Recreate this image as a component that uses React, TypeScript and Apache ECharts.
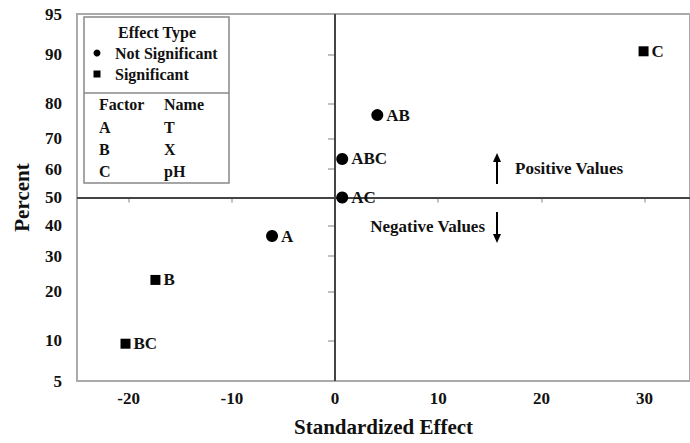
import React, { useEffect, useRef } from "react";
import * as echarts from "echarts";

// ---- data ----
const effectNames = ["C", "AB", "ABC", "AC", "A", "B", "BC"];
const effectValues = [29.9, 4.1, 0.7, 0.7, -6.1, -17.4, -20.3];
const effectPercents = [90.5, 77.0, 63.5, 50.0, 36.5, 23.0, 9.5];
const effectSignificant = [true, false, false, false, false, true, true];
const yTickPercents = [5, 10, 20, 30, 40, 50, 60, 70, 80, 90, 95];
const xTickValues = [-20, -10, 0, 10, 20, 30];
const factorLetters = ["A", "B", "C"];
const factorNames = ["T", "X", "pH"];

// inverse standard normal CDF (Acklam) - probability axis transform
function probit(p: number): number {
  const a = [-3.969683028665376e1, 2.209460984245205e2, -2.759285104469687e2, 1.38357751867269e2, -3.066479806614716e1, 2.506628277459239];
  const b = [-5.447609879822406e1, 1.615858368580409e2, -1.556989798598866e2, 6.680131188771972e1, -1.328068155288572e1];
  const c = [-7.784894002430293e-3, -3.223964580411365e-1, -2.400758277161838, -2.549732539343734, 4.374664141464968, 2.938163982698783];
  const d = [7.784695709041462e-3, 3.224671290700398e-1, 2.445134137142996, 3.754408661907416];
  const pl = 0.02425;
  if (p < pl) {
    const q = Math.sqrt(-2 * Math.log(p));
    return (((((c[0] * q + c[1]) * q + c[2]) * q + c[3]) * q + c[4]) * q + c[5]) / ((((d[0] * q + d[1]) * q + d[2]) * q + d[3]) * q + 1);
  }
  if (p > 1 - pl) {
    const q = Math.sqrt(-2 * Math.log(1 - p));
    return -(((((c[0] * q + c[1]) * q + c[2]) * q + c[3]) * q + c[4]) * q + c[5]) / ((((d[0] * q + d[1]) * q + d[2]) * q + d[3]) * q + 1);
  }
  const q = p - 0.5;
  const r = q * q;
  return ((((((a[0] * r + a[1]) * r + a[2]) * r + a[3]) * r + a[4]) * r + a[5]) * q) / (((((b[0] * r + b[1]) * r + b[2]) * r + b[3]) * r + b[4]) * r + 1);
}

const FONT = "'Liberation Serif', 'DejaVu Serif', serif";
const TXT = "#111";

export default function App() {
  const ref = useRef<HTMLDivElement>(null);
  useEffect(() => {
    if (!ref.current) return;
    const chart = echarts.init(ref.current, null, { renderer: "svg" });

    const yTicks = yTickPercents.map((p) => probit(p / 100));
    const mkData = (sig: boolean) =>
      effectNames
        .map((n, i) => ({ n, i }))
        .filter(({ i }) => effectSignificant[i] === sig)
        .map(({ n, i }) => ({ name: n, value: [effectValues[i], probit(effectPercents[i] / 100)] }));

    const pointLabel = {
      show: true,
      position: "right" as const,
      distance: 3,
      formatter: (p: any) => p.name,
      fontFamily: FONT,
      fontWeight: "bold" as const,
      fontSize: 17,
      color: TXT,
      opacity: 1,
    };

    const legendX = 84;
    const legendY = 17;
    const legendW = 145;
    const legendH = 166;
    const legendText = (text: string, x: number, y: number, align = "left") => ({
      type: "text",
      x,
      y,
      style: { text, fontFamily: FONT, fontWeight: "bold", fontSize: 16, fill: TXT, align, verticalAlign: "middle" },
    });

    const graphics: any[] = [
      {
        type: "rect",
        shape: { x: legendX, y: legendY, width: legendW, height: legendH },
        style: { fill: "#fff", stroke: "#888", lineWidth: 1.5 },
      },
      {
        type: "line",
        shape: { x1: legendX, y1: 93, x2: legendX + legendW, y2: 93 },
        style: { stroke: "#888", lineWidth: 1.5 },
      },
      legendText("Effect Type", 157, 32, "center"),
      { type: "circle", shape: { cx: 97, cy: 53, r: 3.5 }, style: { fill: "#000" } },
      legendText("Not Significant", 115, 53),
      { type: "rect", shape: { x: 93.5, y: 70.5, width: 7, height: 7 }, style: { fill: "#000" } },
      legendText("Significant", 115, 74),
      legendText("Factor", 99, 104),
      legendText("Name", 164, 104),
      ...factorLetters.map((f, i) => legendText(f, 99, 127 + i * 22)),
      ...factorNames.map((f, i) => legendText(f, 164, 127 + i * 22)),
      // arrows
      { type: "line", shape: { x1: 497, y1: 184, x2: 497, y2: 160 }, style: { stroke: "#000", lineWidth: 2 } },
      { type: "polygon", shape: { points: [[497, 153], [493, 162], [501, 162]] }, style: { fill: "#000" } },
      {
        type: "text", x: 515, y: 168,
        style: { text: "Positive Values", fontFamily: FONT, fontWeight: "bold", fontSize: 17, fill: TXT, verticalAlign: "middle" },
      },
      { type: "line", shape: { x1: 497, y1: 212, x2: 497, y2: 236 }, style: { stroke: "#000", lineWidth: 2 } },
      { type: "polygon", shape: { points: [[497, 243], [493, 234], [501, 234]] }, style: { fill: "#000" } },
      {
        type: "text", x: 485, y: 226,
        style: { text: "Negative Values", fontFamily: FONT, fontWeight: "bold", fontSize: 17, fill: TXT, align: "right", verticalAlign: "middle" },
      },
    ];

    chart.setOption({
      animation: false,
      backgroundColor: "#fff",
      grid: {
        left: 77,
        right: -2,
        top: 14,
        bottom: 62,
        show: true,
        borderColor: "#aaa",
        borderWidth: 2,
        backgroundColor: "transparent",
      },
      xAxis: {
        type: "value",
        min: -25,
        max: 34.4,
        name: "Standardized Effect",
        nameLocation: "middle",
        nameGap: 35,
        nameTextStyle: { fontFamily: FONT, fontWeight: "bold", fontSize: 21, color: TXT },
        axisLine: { show: true, lineStyle: { color: "#aaa", width: 2 } },
        axisTick: { show: true, length: 5, customValues: xTickValues, lineStyle: { color: "#aaa", width: 1.5 } },
        axisLabel: { customValues: xTickValues, margin: 9, fontFamily: FONT, fontWeight: "bold", fontSize: 17, color: TXT },
        splitLine: { show: false },
      },
      yAxis: {
        type: "value",
        min: probit(0.05),
        max: probit(0.95),
        name: "Percent",
        nameLocation: "middle",
        nameRotate: 90,
        nameGap: 45,
        nameTextStyle: { fontFamily: FONT, fontWeight: "bold", fontSize: 21, color: TXT },
        axisLine: { show: true, lineStyle: { color: "#aaa", width: 2 } },
        axisTick: { show: true, length: 7, customValues: yTicks, lineStyle: { color: "#aaa", width: 1.5 } },
        axisLabel: {
          customValues: yTicks,
          margin: 15,
          fontFamily: FONT,
          fontWeight: "bold",
          fontSize: 17,
          color: TXT,
          formatter: (v: number) => {
            let best = yTickPercents[0];
            let bd = Infinity;
            yTickPercents.forEach((p) => {
              const dd = Math.abs(probit(p / 100) - v);
              if (dd < bd) { bd = dd; best = p; }
            });
            return String(best);
          },
        },
        splitLine: { show: false },
      },
      series: [
        {
          name: "Not Significant",
          type: "scatter",
          symbol: "circle",
          symbolSize: 12,
          itemStyle: { color: "#000", opacity: 1 },
          label: pointLabel,
          data: mkData(false),
          z: 3,
          markLine: {
            silent: true,
            symbol: "none",
            label: { show: false },
            lineStyle: { color: "#444", width: 2, type: "solid", opacity: 1 },
            data: [{ yAxis: 0 }, { xAxis: 0 }],
            z: 2,
          },
        },
        {
          name: "Significant",
          type: "scatter",
          symbol: "rect",
          symbolSize: 10,
          itemStyle: { color: "#000", opacity: 1 },
          label: pointLabel,
          data: mkData(true),
          z: 3,
        },
      ],
      graphic: graphics,
    });
    return () => chart.dispose();
  }, []);
  return <div ref={ref} style={{ width: 690, height: 443, position: "absolute", left: 0, top: 0 }} />;
}
